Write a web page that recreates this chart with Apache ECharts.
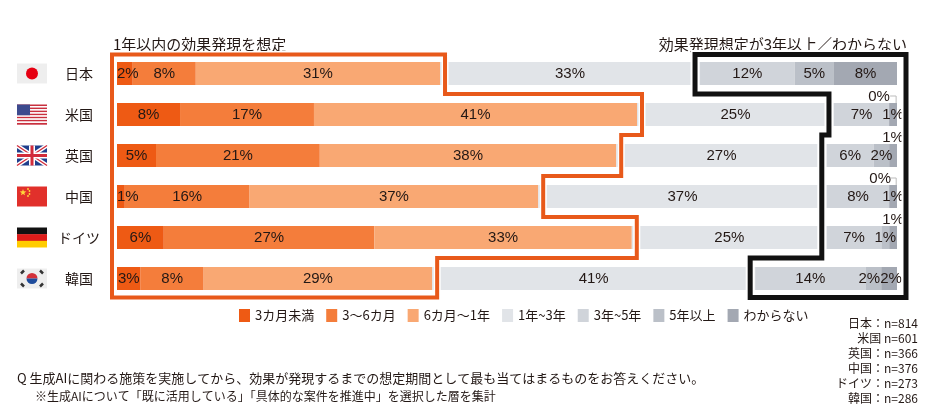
<!DOCTYPE html>
<html>
<head>
<meta charset="utf-8">
<script src="https://cdn.jsdelivr.net/npm/echarts@6/dist/echarts.min.js"></script>
<style>
html, body { margin: 0; padding: 0; background: #fff; }
#main { width: 929px; height: 418px; }
</style>
</head>
<body>
<div id="main"></div>
<script>
// 国
const countries = ['日本', '米国', '英国', '中国', 'ドイツ', '韓国'];
// 期間区分
const periods = ['3カ月未満', '3〜6カ月', '6カ月〜1年', '1年~3年', '3年~5年', '5年以上', 'わからない'];
// 各区分の割合(%)
const under3m = [2, 8, 5, 1, 6, 3];
const m3to6 = [8, 17, 21, 16, 27, 8];
const m6to1y = [31, 41, 38, 37, 33, 29];
const y1to3 = [33, 25, 27, 37, 25, 41];
const y3to5 = [12, 7, 6, 8, 7, 14];
const y5plus = [5, 0, 2, 0, 1, 2];
const unknown = [8, 1, 1, 1, 1, 2];
// 回答数
const sampleSizes = ['日本：n=814', '米国 n=601', '英国：n=366', '中国：n=376', 'ドイツ：n=273', '韓国：n=286'];

const colors = ['#EE5A14', '#F47D3B', '#F9A873', '#E1E4E8', '#D0D4DA', '#BBC0C8', '#A3A8B2'];
const allValues = [under3m, m3to6, m6to1y, y1to3, y3to5, y5plus, unknown];
const rowSums = countries.map((c, i) => allValues.reduce((s, arr) => s + arr[i], 0));

// 細い区分のラベル位置の調整 (series -> row -> label)
const labelAbove = { 5: { 1: -10, 3: -9 }, 6: { 2: 0, 4: 0 } };
const labelTweak = {
  0: { 0: { position: 'insideLeft', distance: 0 }, 3: { position: 'insideLeft', distance: 0 }, 5: { position: 'insideLeft', distance: 1 } },
  5: { 5: { offset: [-4, 0] } },
  6: { 5: { offset: [2, 0] } }
};

const jp = '"Noto Sans CJK JP", sans-serif';
const num = '"Liberation Sans", "Noto Sans CJK JP", sans-serif';

const chart = echarts.init(document.getElementById('main'));

const series = allValues.map((arr, si) => ({
  name: periods[si],
  type: 'bar',
  stack: 'total',
  barWidth: 23,
  itemStyle: { color: colors[si] },
  label: {
    show: true,
    position: 'inside',
    fontSize: 15,
    fontFamily: num,
    color: '#231815',
    overflow: 'none',
    formatter: p => p.data.raw + '%'
  },
  data: arr.map((v, i) => {
    const item = { value: v / rowSums[i] * 100, raw: v };
    if (labelAbove[si] && labelAbove[si][i] !== undefined) {
      item.label = { position: 'top', distance: 0, offset: [labelAbove[si][i], 1] };
    }
    if (labelTweak[si] && labelTweak[si][i]) {
      item.label = labelTweak[si][i];
    }
    return item;
  })
}));

chart.setOption({
  animation: false,
  color: colors,
  grid: { left: 117, right: 32, top: 53, bottom: 119 },
  xAxis: { type: 'value', min: 0, max: 100, show: false },
  yAxis: {
    type: 'category',
    data: countries,
    inverse: true,
    axisLine: { show: false },
    axisTick: { show: false },
    axisLabel: { fontSize: 14, fontFamily: jp, color: '#231815', align: 'center', margin: 38 }
  },
  legend: {
    data: periods,
    left: 234,
    top: 304,
    icon: 'rect',
    itemWidth: 11,
    itemHeight: 13,
    itemGap: 12,
    textStyle: { fontSize: 13, fontFamily: jp, color: '#231815' }
  },
  series: series
});

// 旗
function starPoints(cx, cy, r) {
  const pts = [];
  for (let k = 0; k < 10; k++) {
    const a = -Math.PI / 2 + k * Math.PI / 5;
    const rr = k % 2 === 0 ? r : r * 0.4;
    pts.push([cx + rr * Math.cos(a), cy + rr * Math.sin(a)]);
  }
  return pts;
}

function flag(name, y) {
  const W = 30, H = 20;
  let ch = [];
  if (name === '日本') {
    ch = [
      { type: 'rect', shape: { x: 0, y: 0, width: W, height: H }, style: { fill: '#EEEEEE' } },
      { type: 'circle', shape: { cx: 15, cy: 10, r: 6 }, style: { fill: '#E60012' } }
    ];
  } else if (name === '米国') {
    for (let k = 0; k < 13; k++) {
      ch.push({ type: 'rect', shape: { x: 0, y: k * H / 13, width: W, height: H / 13 + 0.2 }, style: { fill: k % 2 ? '#FFFFFF' : '#C9303E' } });
    }
    ch.push({ type: 'rect', shape: { x: 0, y: 0, width: 13, height: H * 7 / 13 }, style: { fill: '#3C4A8E' } });
  } else if (name === '英国') {
    ch = [
      { type: 'rect', shape: { x: 0, y: 0, width: W, height: H }, style: { fill: '#1F3E8C' } },
      { type: 'line', shape: { x1: 0, y1: 0, x2: W, y2: H }, style: { stroke: '#fff', lineWidth: 4 } },
      { type: 'line', shape: { x1: 0, y1: H, x2: W, y2: 0 }, style: { stroke: '#fff', lineWidth: 4 } },
      { type: 'line', shape: { x1: 0, y1: 0, x2: W, y2: H }, style: { stroke: '#D22B3A', lineWidth: 1.3 } },
      { type: 'line', shape: { x1: 0, y1: H, x2: W, y2: 0 }, style: { stroke: '#D22B3A', lineWidth: 1.3 } },
      { type: 'rect', shape: { x: 12, y: 0, width: 6, height: H }, style: { fill: '#fff' } },
      { type: 'rect', shape: { x: 0, y: 7, width: W, height: 6 }, style: { fill: '#fff' } },
      { type: 'rect', shape: { x: 13.5, y: 0, width: 3, height: H }, style: { fill: '#D22B3A' } },
      { type: 'rect', shape: { x: 0, y: 8.5, width: W, height: 3 }, style: { fill: '#D22B3A' } }
    ];
  } else if (name === '中国') {
    ch = [
      { type: 'rect', shape: { x: 0, y: 0, width: W, height: H }, style: { fill: '#E1302B' } },
      { type: 'polygon', shape: { points: starPoints(6, 6, 3.5) }, style: { fill: '#FFD93A' } },
      { type: 'circle', shape: { cx: 11, cy: 2.5, r: 0.9 }, style: { fill: '#FFD93A' } },
      { type: 'circle', shape: { cx: 12.5, cy: 4.5, r: 0.9 }, style: { fill: '#FFD93A' } },
      { type: 'circle', shape: { cx: 12.5, cy: 7.5, r: 0.9 }, style: { fill: '#FFD93A' } },
      { type: 'circle', shape: { cx: 11, cy: 9.5, r: 0.9 }, style: { fill: '#FFD93A' } }
    ];
  } else if (name === 'ドイツ') {
    ch = [
      { type: 'rect', shape: { x: 0, y: 0, width: W, height: H / 3 + 0.3 }, style: { fill: '#111111' } },
      { type: 'rect', shape: { x: 0, y: H / 3, width: W, height: H / 3 + 0.3 }, style: { fill: '#DD1C1A' } },
      { type: 'rect', shape: { x: 0, y: H * 2 / 3, width: W, height: H / 3 }, style: { fill: '#FFCC00' } }
    ];
  } else if (name === '韓国') {
    ch = [
      { type: 'rect', shape: { x: 0, y: 0, width: W, height: H }, style: { fill: '#EEEEEE' } },
      { type: 'sector', shape: { cx: 15, cy: 10, r: 5.5, startAngle: Math.PI, endAngle: Math.PI * 2 }, style: { fill: '#D3313A' } },
      { type: 'sector', shape: { cx: 15, cy: 10, r: 5.5, startAngle: 0, endAngle: Math.PI }, style: { fill: '#1E4C9C' } },
      { type: 'line', shape: { x1: 4, y1: 5, x2: 7, y2: 2 }, style: { stroke: '#333', lineWidth: 2.5 } },
      { type: 'line', shape: { x1: 23, y1: 2, x2: 26, y2: 5 }, style: { stroke: '#333', lineWidth: 2.5 } },
      { type: 'line', shape: { x1: 4, y1: 15, x2: 7, y2: 18 }, style: { stroke: '#333', lineWidth: 2.5 } },
      { type: 'line', shape: { x1: 23, y1: 18, x2: 26, y2: 15 }, style: { stroke: '#333', lineWidth: 2.5 } }
    ];
  }
  return { type: 'group', x: 17, y: y - H / 2, children: ch };
}

function drawOverlay() {
  const px = (v, i) => chart.convertToPixel({ gridIndex: 0 }, [v, i]);
  const cum = (i, n) => {
    let s = 0;
    for (let k = 0; k < n; k++) s += allValues[k][i] / rowSums[i] * 100;
    return s;
  };
  const centers = countries.map((c, i) => px(0, i)[1]);
  const band = centers[1] - centers[0];
  const top = centers[0] - band / 2 + 1.5;
  const bottom = centers[centers.length - 1] + band / 2 - 1.5;
  const left = px(0, 0)[0];
  const right = px(100, 0)[0];

  // 1年以内 (オレンジ枠)
  const orange = [[left - 5, top]];
  countries.forEach((c, i) => {
    const x = px(cum(i, 3), i)[0] + 5;
    const y0 = i === 0 ? top : centers[i] - band / 2;
    const y1 = i === countries.length - 1 ? bottom : centers[i] + band / 2;
    orange.push([x, y0], [x, y1]);
  });
  orange.push([left - 5, bottom]);

  // 3年以上/わからない (黒枠)
  const black = [[right + 9, top]];
  countries.forEach((c, i) => {
    const x = px(cum(i, 4), i)[0] - 5;
    const y0 = i === 0 ? top : centers[i] - band / 2;
    const y1 = i === countries.length - 1 ? bottom : centers[i] + band / 2;
    black.push([x, y0], [x, y1]);
  });
  black.push([right + 9, bottom]);

  const g = [];
  g.push({ type: 'polygon', z: 10, shape: { points: orange }, style: { fill: 'transparent', stroke: '#fff', lineWidth: 7, lineJoin: 'miter' } });
  g.push({ type: 'polygon', z: 11, shape: { points: orange }, style: { fill: 'transparent', stroke: '#E8591A', lineWidth: 4, lineJoin: 'miter' } });
  g.push({ type: 'polygon', z: 10, shape: { points: black }, style: { fill: 'transparent', stroke: '#fff', lineWidth: 9, lineJoin: 'miter' } });
  g.push({ type: 'polygon', z: 11, shape: { points: black }, style: { fill: 'transparent', stroke: '#111', lineWidth: 5, lineJoin: 'miter' } });

  // 0% ラベルの引き出し線
  Object.keys(labelAbove[5]).forEach(k => {
    const i = +k;
    const x = px(cum(i, 6), i)[0];
    const cy = centers[i];
    g.push({
      type: 'polyline', z: 12,
      shape: { points: [[x + 1, cy - 18.5], [x + 7, cy - 18.5], [x + 7, cy - 11.5]] },
      style: { stroke: '#BBBBBB', lineWidth: 1, fill: null }
    });
  });

  countries.forEach((c, i) => g.push(flag(c, centers[i])));

  // 見出し
  g.push({ type: 'text', x: left - 4, y: 44, style: { text: '1年以内の効果発現を想定', fontSize: 15, fontFamily: jp, fill: '#231815', align: 'left', verticalAlign: 'middle' } });
  g.push({ type: 'text', x: right + 10, y: 44, style: { text: '効果発現想定が3年以上／わからない', fontSize: 15, fontFamily: jp, fill: '#231815', align: 'right', verticalAlign: 'middle' } });

  // 注記
  g.push({ type: 'text', x: 17, y: 378, style: { text: 'Q 生成AIに関わる施策を実施してから、効果が発現するまでの想定期間として最も当てはまるものをお答えください。', fontSize: 13, fontFamily: jp, fill: '#231815', align: 'left', verticalAlign: 'middle' } });
  g.push({ type: 'text', x: 35, y: 396, style: { text: '※生成AIについて「既に活用している」「具体的な案件を推進中」を選択した層を集計', fontSize: 12, fontFamily: jp, fill: '#231815', align: 'left', verticalAlign: 'middle' } });

  sampleSizes.forEach((t, i) => {
    g.push({ type: 'text', x: 918, y: 323 + i * 15, style: { text: t, fontSize: 12, fontFamily: jp, fill: '#231815', align: 'right', verticalAlign: 'middle' } });
  });

  chart.setOption({ graphic: g });
}

drawOverlay();
</script>
</body>
</html>
